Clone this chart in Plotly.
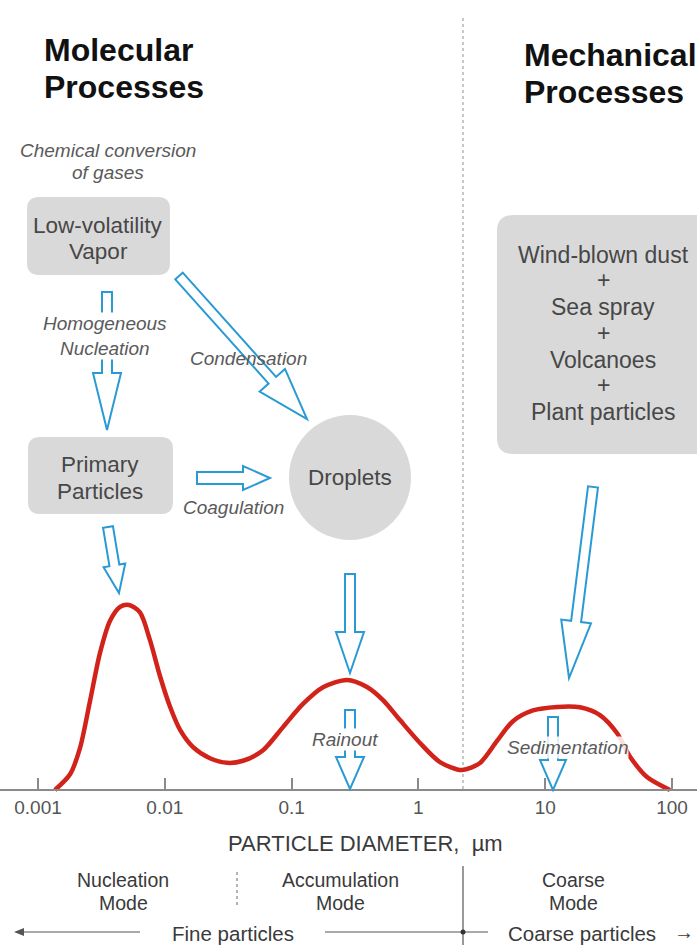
import math
import plotly.graph_objects as go

W, H = 697, 945

# ---- data ----
diameter_um = [0.00136, 0.00179, 0.00214, 0.00257, 0.00308, 0.0037, 0.00444, 0.00522, 0.00637, 0.00764,
               0.00917, 0.011, 0.0132, 0.0167, 0.0227, 0.031, 0.0414, 0.0595, 0.0855, 0.123,
               0.177, 0.274, 0.393, 0.526, 0.716, 1.03, 1.48, 2.21, 3.06, 4.17,
               5.57, 8.01, 12.4, 18.8, 27.0, 36.8, 46.7, 63.5, 96.4]
rel_conc = [0.0, 0.085, 0.225, 0.48, 0.74, 0.915, 0.99, 1.0, 0.96, 0.81,
            0.615, 0.45, 0.325, 0.232, 0.172, 0.147, 0.158, 0.215, 0.34, 0.465,
            0.555, 0.595, 0.557, 0.486, 0.378, 0.254, 0.151, 0.108, 0.146, 0.265,
            0.372, 0.43, 0.449, 0.447, 0.405, 0.308, 0.18, 0.07, 0.0]
tick_vals = [0.001, 0.01, 0.1, 1, 10, 100]
tick_text = ["0.001", "0.01", "0.1", "1", "10", "100"]

FONT = "Liberation Sans, Arial, sans-serif"
BLUE = "#2a9ad4"
BOX = "#d9d9d9"
TXT = "#474747"
ITAL = "#5a5a5a"
DARK = "#3a3a3a"


def px(x):
    return x / W


def py(y):
    return 1 - y / H


def path_from(points, close=True):
    s = "M " + " L ".join(f"{px(x):.5f},{py(y):.5f}" for x, y in points)
    return s + (" Z" if close else "")


def rounded_rect(x0, y0, x1, y1, r):
    P = lambda x, y: f"{px(x):.5f},{py(y):.5f}"
    return (f"M {P(x0 + r, y0)} L {P(x1 - r, y0)} Q {P(x1, y0)} {P(x1, y0 + r)} "
            f"L {P(x1, y1 - r)} Q {P(x1, y1)} {P(x1 - r, y1)} L {P(x0 + r, y1)} "
            f"Q {P(x0, y1)} {P(x0, y1 - r)} L {P(x0, y0 + r)} Q {P(x0, y0)} {P(x0 + r, y0)} Z")


def block_arrow(x0, y0, x1, y1, w, hw, hl):
    dx, dy = x1 - x0, y1 - y0
    L = math.hypot(dx, dy)
    ux, uy = dx / L, dy / L
    nx, ny = -uy, ux
    bx, by = x1 - ux * hl, y1 - uy * hl
    pts = [(x0 + nx * w, y0 + ny * w), (bx + nx * w, by + ny * w), (bx + nx * hw, by + ny * hw),
           (x1, y1), (bx - nx * hw, by - ny * hw), (bx - nx * w, by - ny * w),
           (x0 - nx * w, y0 - ny * w)]
    return path_from(pts)


fig = go.Figure()
fig.add_trace(go.Scatter(x=diameter_um, y=rel_conc, mode="lines",
                         line=dict(color="#d2231b", width=4.5, shape="spline", smoothing=0.8),
                         hoverinfo="skip", showlegend=False))

shapes = []
# gray boxes
shapes.append(dict(type="path", path=rounded_rect(27, 197, 170, 275, 12), fillcolor=BOX, line=dict(width=0),
                   xref="paper", yref="paper", layer="below"))
shapes.append(dict(type="path", path=rounded_rect(28, 437, 173, 514, 12), fillcolor=BOX, line=dict(width=0),
                   xref="paper", yref="paper", layer="below"))
shapes.append(dict(type="path", path=rounded_rect(497, 215, 712, 454, 16), fillcolor=BOX, line=dict(width=0),
                   xref="paper", yref="paper", layer="below"))
shapes.append(dict(type="circle", x0=px(289), x1=px(411), y0=py(540), y1=py(415), fillcolor=BOX,
                   line=dict(width=0), xref="paper", yref="paper", layer="below"))

# dotted divider lines
shapes.append(dict(type="line", x0=px(463), x1=px(463), y0=py(18), y1=py(790), xref="paper", yref="paper",
                   line=dict(color="#b5b5b5", width=1.5, dash="dot"), layer="below"))
shapes.append(dict(type="line", x0=px(237), x1=px(237), y0=py(872), y1=py(907), xref="paper", yref="paper",
                   line=dict(color="#9a9a9a", width=1.5, dash="dot")))
shapes.append(dict(type="line", x0=px(463), x1=px(463), y0=py(866), y1=py(945), xref="paper", yref="paper",
                   line=dict(color="#555555", width=1.2)))

# bottom arrow lines
shapes.append(dict(type="line", x0=px(18), x1=px(140), y0=py(932), y1=py(932), xref="paper", yref="paper",
                   line=dict(color="#555555", width=1.2)))
shapes.append(dict(type="path", path=path_from([(14, 932), (24, 928), (24, 936)]), fillcolor="#555555",
                   line=dict(width=0), xref="paper", yref="paper"))
shapes.append(dict(type="line", x0=px(325), x1=px(488), y0=py(932), y1=py(932), xref="paper", yref="paper",
                   line=dict(color="#555555", width=1.2)))
shapes.append(dict(type="circle", x0=px(460.5), x1=px(465.5), y0=py(934.5), y1=py(929.5), xref="paper",
                   yref="paper", fillcolor="#333333", line=dict(width=0)))

# blue hollow block arrows
arrow_style = dict(fillcolor="rgba(255,255,255,0)", line=dict(color=BLUE, width=2), xref="paper", yref="paper")
arrows = [
    (107, 292, 107, 430, 5, 14, 57),     # vapor -> primary
    (179, 276, 307, 419, 5, 17, 52),     # vapor -> droplets
    (197, 478, 270, 478, 6, 12, 27),     # primary -> droplets
    (108, 527, 119, 593, 5, 11, 28),     # primary -> peak 1
    (350, 574, 350, 673, 5, 14, 41),     # droplets -> peak 2
    (593, 487, 569, 678, 5, 15, 57),     # mechanical -> peak 3
    (350, 710, 350, 789, 5, 14, 32),     # rainout
    (553, 717, 553, 790, 5, 13, 30),     # sedimentation
]
for a in arrows:
    shapes.append(dict(type="path", path=block_arrow(*a), **arrow_style))

annotations = []


def txt(x, y, text, size, color=TXT, italic=False, bold=False, xanchor="center", bg=None):
    t = text
    if bold:
        t = f"<b>{t}</b>"
    if italic:
        t = f"<i>{t}</i>"
    d = dict(x=px(x), y=py(y), xref="paper", yref="paper", text=t, showarrow=False, align="center",
             xanchor=xanchor, yanchor="middle", font=dict(family=FONT, size=size, color=color))
    if bg:
        d["bgcolor"] = bg
        d["borderpad"] = 0
    annotations.append(d)


def lines(x, ys, texts, size, **kw):
    for y, t in zip(ys, texts):
        txt(x, y, t, size, **kw)


lines(42, [50, 87], ["Molecular", "Processes"], 32, color="#111111", bold=True, xanchor="left")
lines(522, [55, 92], ["Mechanical", "Processes"], 32, color="#111111", bold=True, xanchor="left")
lines(108, [150, 173], ["Chemical conversion", "of gases"], 19, color=ITAL, italic=True)
lines(98, [225, 251], ["Low-volatility", "Vapor"], 22.5)
lines(100, [464, 491], ["Primary", "Particles"], 22.5)
txt(350, 477, "Droplets", 22.5)
lines(603, [255, 280, 307, 333, 360, 385, 412],
      ["Wind-blown dust", "+", "Sea spray", "+", "Volcanoes", "+", "Plant particles"], 23)
txt(105, 336, "Homogeneous<br>Nucleation", 19, color=ITAL, italic=True, bg="white")
txt(248, 358, "Condensation", 19, color=ITAL, italic=True)
txt(233, 507, "Coagulation", 19, color=ITAL, italic=True)
txt(345, 739, "Rainout", 19, color=ITAL, italic=True, bg="white")
txt(567, 747, "Sedimentation", 19, color=ITAL, italic=True, bg="rgba(255,255,255,0.85)")
txt(365, 843, "PARTICLE DIAMETER,  µm", 22, color=DARK)
lines(123, [880, 903], ["Nucleation", "Mode"], 19.5, color=DARK)
lines(340, [880, 903], ["Accumulation", "Mode"], 19.5, color=DARK)
lines(573, [880, 903], ["Coarse", "Mode"], 19.5, color=DARK)
txt(233, 933, "Fine particles", 20.5, color=DARK)
txt(582, 933, "Coarse particles", 20.5, color=DARK)
txt(684, 932, "→", 20, color=DARK)

y_lo = -(H - 790) / 185
y_hi = 790 / 185
x_lo = -3 - 38 / 126.8
x_hi = -3 + (W - 38) / 126.8

fig.update_layout(
    width=W, height=H, margin=dict(l=0, r=0, t=0, b=0),
    paper_bgcolor="white", plot_bgcolor="white",
    shapes=shapes, annotations=annotations, showlegend=False,
    xaxis=dict(type="log", range=[x_lo, x_hi], tickvals=tick_vals, ticktext=tick_text,
               ticks="inside", ticklen=11, tickwidth=2, tickcolor="#8a8a8a",
               showline=True, linecolor="#8a8a8a", linewidth=2, showgrid=False, zeroline=False,
               anchor="free", position=(H - 790) / H,
               tickfont=dict(family=FONT, size=19, color="#555555")),
    yaxis=dict(range=[y_lo, y_hi], visible=False, showgrid=False, zeroline=False),
)

fig.write_html("out.html")
